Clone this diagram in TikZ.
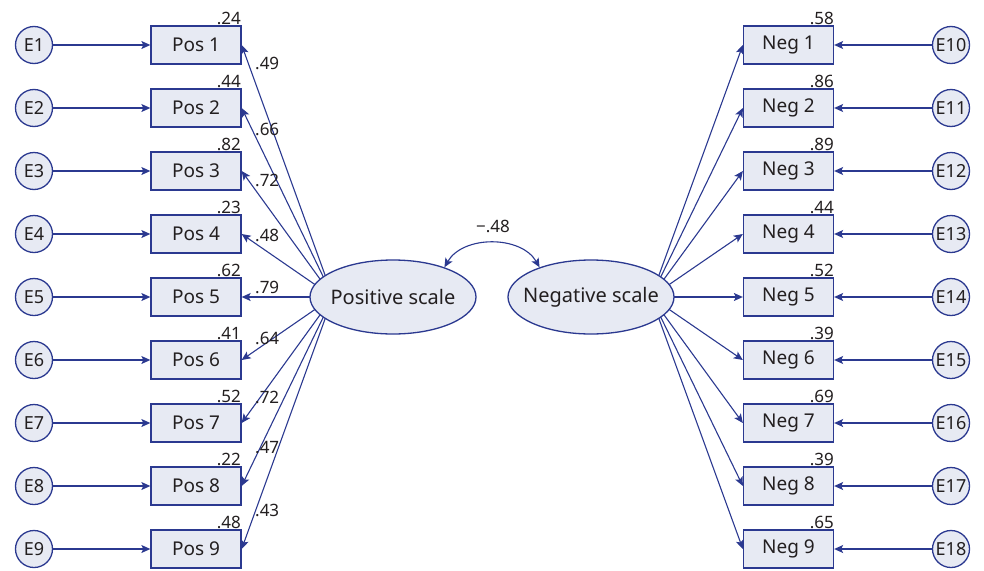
\documentclass[tikz,border=0pt]{standalone}
\usepackage{fontspec}
\setmainfont{Noto Sans}
\usetikzlibrary{shapes.geometric,arrows.meta}
\definecolor{ln}{HTML}{2B3990}
\definecolor{fl}{HTML}{E7EAF3}
\definecolor{tx}{HTML}{231F20}
\begin{document}
\begin{tikzpicture}[x=1pt,y=-1pt,
 every node/.style={text=tx},
 obs/.style={draw=ln,fill=fl,line width=1.3pt,minimum width=90pt,minimum height=38pt,inner sep=0,font=\fontsize{19}{22}\selectfont},
 err/.style={circle,draw=ln,fill=fl,line width=1.3pt,minimum size=37pt,inner sep=0,font=\fontsize{18}{20}\selectfont},
 lat/.style={ellipse,draw=ln,fill=fl,line width=1.3pt,minimum width=166pt,minimum height=74pt,inner sep=0},
 val/.style={font=\fontsize{17}{20}\selectfont,inner sep=0},
 arr/.style={draw=ln,line width=1.1pt,-{Stealth[length=9pt,width=8pt,inset=2pt]}},
 every label/.style={font=\fontsize{20}{23}\selectfont,text=tx,inner sep=0},
]
\useasboundingbox (0,0) rectangle (984,570);

\coordinate (PF) at (333,297);
\coordinate (NF) at (651,297);

\foreach \i/\r/\l/\ly in {1/.24/.49/63, 2/.44/.66/129, 3/.82/.72/180, 4/.23/.48/235, 5/.62/.79/287, 6/.41/.64/338, 7/.52/.72/397, 8/.22/.47/448, 9/.48/.43/510} {
  \pgfmathsetmacro\y{45+63*(\i-1)}
  \node[obs] (pos\i) at (196,\y) {Pos \i};
  \node[err] (e\i) at (34,\y) {E\i};
  \draw[arr] (e\i) -- (pos\i);
  \node[val,anchor=base east] (rp\i) at (241,\y-21) {\r};
  \draw[arr] (PF) -- (pos\i.east);
  \node[val,anchor=west] (lp\i) at (255,\ly) {\l};
}

\foreach \i/\r in {1/.58, 2/.86, 3/.89, 4/.44, 5/.52, 6/.39, 7/.69, 8/.39, 9/.65} {
  \pgfmathsetmacro\y{45+63*(\i-1)}
  \pgfmathtruncatemacro\k{\i+9}
  \node[obs] (neg\i) at (788.5,\y) {Neg \i};
  \node[err] (e\k) at (951,\y) {E\k};
  \draw[arr] (e\k) -- (neg\i);
  \node[val,anchor=base east] (rn\i) at (834,\y-21) {\r};
  \draw[arr] (NF) -- (neg\i.west);
}

\node[lat,label={center:Positive scale}] (P) at (393,297) {};
\node[lat,label={center:Negative scale}] (N) at (591,297) {};

\draw[ln,line width=1.1pt,{Stealth[length=9pt,width=8pt,inset=2pt]}-{Stealth[length=9pt,width=8pt,inset=2pt]}] (P.30) to[out=60,in=120] (N.150);
\node[val] (cor) at (493,226) {−.48};
\end{tikzpicture}
\end{document}
